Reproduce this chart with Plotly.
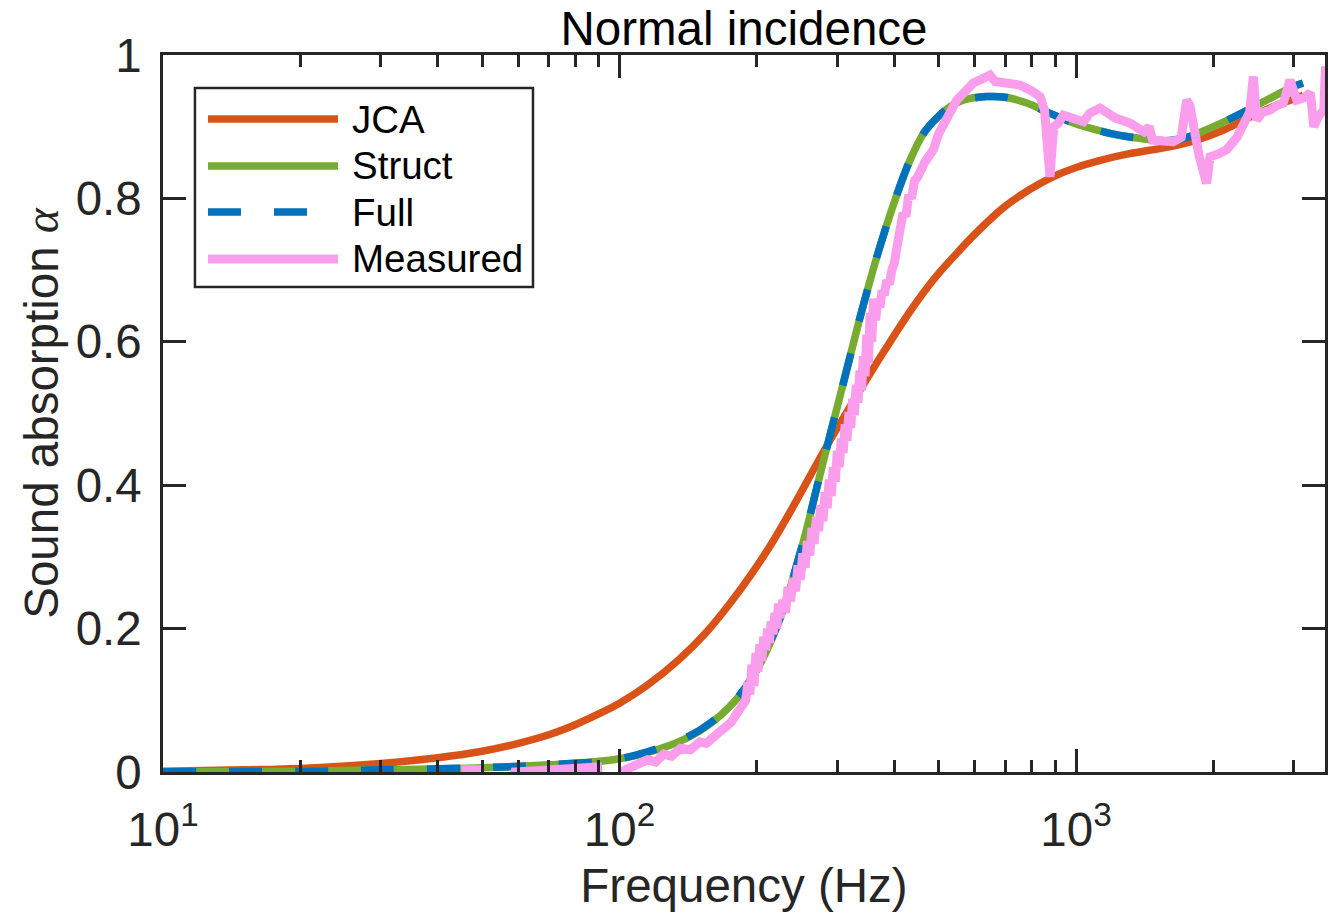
import plotly.graph_objects as go

# ---------------- data ----------------
jca_freq = [10, 15, 20, 30, 40, 50, 60, 70, 80, 90, 100, 115, 135, 155, 175, 195, 215, 240,
            280, 310, 342, 380, 420, 460, 495, 540, 600, 693, 790, 890, 1000, 1130, 1300,
            1630, 1850, 2100, 2490, 2800, 3050, 3150]
jca_alpha = [0.001, 0.003, 0.005, 0.012, 0.020, 0.029, 0.040, 0.052, 0.066, 0.081, 0.096,
             0.121, 0.157, 0.195, 0.236, 0.277, 0.318, 0.370, 0.447, 0.495, 0.540, 0.587,
             0.630, 0.666, 0.692, 0.719, 0.750, 0.787, 0.812, 0.830, 0.843, 0.853, 0.862,
             0.873, 0.882, 0.895, 0.918, 0.932, 0.940, 0.944]

struct_freq = [10, 20, 30, 50, 70, 97, 115, 140, 160, 184, 203, 225, 250, 280, 310, 340, 370,
               400, 432, 465, 495, 530, 566, 637, 700, 780, 860, 970, 1073, 1200, 1335, 1500,
               1634, 1750, 1869, 2000, 2211, 2616, 2943, 3141]
struct_alpha = [0.0005, 0.001, 0.003, 0.006, 0.010, 0.017, 0.027, 0.047, 0.070, 0.108, 0.150,
                0.215, 0.310, 0.435, 0.545, 0.645, 0.728, 0.795, 0.852, 0.892, 0.912, 0.928,
                0.937, 0.942, 0.941, 0.933, 0.921, 0.907, 0.898, 0.890, 0.885, 0.881, 0.881,
                0.885, 0.892, 0.900, 0.913, 0.937, 0.954, 0.961]

full_freq = [10, 20, 30, 50, 70, 97, 115, 140, 160, 184, 203, 225, 250, 280, 310, 340, 370,
             400, 432, 465, 495, 530, 566, 637, 700, 780, 860, 970, 1073, 1200, 1335, 1500,
             1634, 1750, 1869, 2000, 2211, 2616, 2943, 3141]
full_alpha = [0.0005, 0.001, 0.003, 0.006, 0.010, 0.017, 0.028, 0.048, 0.071, 0.109, 0.151,
              0.216, 0.311, 0.435, 0.545, 0.645, 0.728, 0.795, 0.852, 0.892, 0.912, 0.928,
              0.937, 0.942, 0.941, 0.933, 0.921, 0.907, 0.898, 0.890, 0.885, 0.881, 0.881,
              0.885, 0.892, 0.900, 0.913, 0.937, 0.954, 0.961]

meas_freq = [45, 49, 49.5, 58.5, 59, 70, 80, 89.5, 90, 102, 103, 109, 115, 120, 125, 130, 136,
             143, 150, 155, 160, 165, 171, 176, 180, 185, 189, 191, 193, 195, 197, 199, 201,
             203, 205, 207, 209, 211, 213, 215, 217, 219, 221, 223, 225, 228, 231, 234, 237,
             240, 243, 246, 249, 252, 255, 258, 261, 264, 267, 270, 273, 276, 279, 282, 285,
             288, 291, 294, 297, 300, 303, 306, 309, 312, 315, 318, 321, 324, 327, 330, 333,
             336, 339, 342, 345, 348, 351, 354, 357, 360, 364, 368, 372, 376, 380, 385, 390,
             395, 400, 406, 412, 418, 424, 430, 436, 443, 450, 458, 466, 475, 487, 500, 512,
             530, 548, 570, 596, 620, 648, 665, 700, 754, 800, 834, 853, 866, 877, 886, 894,
             915, 938, 980, 1038, 1073, 1129, 1148, 1220, 1313, 1409, 1446, 1471, 1550, 1634,
             1700, 1747, 1775, 1806, 1860, 1932, 1966, 2050, 2138, 2250, 2326, 2400, 2446,
             2470, 2488, 2560, 2660, 2760, 2845, 2943, 3000, 3044, 3150, 3262, 3318, 3400,
             3489, 3520, 3560]
meas_alpha = [0.003, 0.003, -0.01, -0.01, 0.000, 0.002, 0.004, 0.007, -0.01, -0.01, 0.003,
              0.010, 0.017, 0.014, 0.025, 0.022, 0.033, 0.031, 0.042, 0.040, 0.050, 0.055,
              0.063, 0.070, 0.080, 0.090, 0.100, 0.125, 0.108, 0.150, 0.120, 0.166, 0.140,
              0.178, 0.155, 0.189, 0.170, 0.200, 0.180, 0.210, 0.192, 0.222, 0.200, 0.235,
              0.215, 0.240, 0.222, 0.258, 0.238, 0.270, 0.252, 0.288, 0.268, 0.305, 0.285,
              0.322, 0.302, 0.340, 0.318, 0.356, 0.336, 0.372, 0.350, 0.390, 0.368, 0.408,
              0.385, 0.425, 0.405, 0.448, 0.425, 0.465, 0.445, 0.485, 0.462, 0.502, 0.480,
              0.520, 0.498, 0.540, 0.515, 0.560, 0.532, 0.580, 0.552, 0.610, 0.570, 0.640,
              0.600, 0.660, 0.630, 0.660, 0.648, 0.672, 0.665, 0.686, 0.680, 0.700, 0.710,
              0.735, 0.760, 0.780, 0.775, 0.805, 0.800, 0.825, 0.830, 0.842, 0.850, 0.858,
              0.868, 0.890, 0.905, 0.920, 0.937, 0.950, 0.961, 0.966, 0.972, 0.963, 0.960,
              0.958, 0.950, 0.942, 0.923, 0.870, 0.830, 0.870, 0.900, 0.905, 0.916, 0.912,
              0.907, 0.919, 0.926, 0.923, 0.912, 0.905, 0.893, 0.900, 0.881, 0.880, 0.879,
              0.885, 0.937, 0.930, 0.900, 0.860, 0.821, 0.858, 0.862, 0.868, 0.885, 0.905,
              0.920, 0.970, 0.930, 0.909, 0.920, 0.923, 0.930, 0.933, 0.965, 0.945, 0.937,
              0.940, 0.947, 0.900, 0.915, 0.923, 0.984, 0.940]

x_tick_vals = [10, 100, 1000]
x_tick_text = ["10<sup>1</sup>", "10<sup>2</sup>", "10<sup>3</sup>"]
x_minor_vals = [20, 30, 40, 50, 60, 70, 80, 90, 200, 300, 400, 500, 600, 700, 800, 900,
                2000, 3000]
y_tick_vals = [0, 0.2, 0.4, 0.6, 0.8, 1]
y_tick_text = ["0", "0.2", "0.4", "0.6", "0.8", "1"]

series_names = ["JCA", "Struct", "Full", "Measured"]
series_colors = ["#D95319", "#77AC30", "#0072BD", "#FA9DEC"]

# ---------------- figure ----------------
FONT = "Liberation Sans, Arial, Helvetica, sans-serif"
AX = "#262626"
FS = 47.5
W_MODEL = 7.5
W_MEAS = 9

fig = go.Figure()
fig.add_trace(go.Scatter(x=jca_freq, y=jca_alpha, name=series_names[0], mode="lines",
                         line=dict(color=series_colors[0], width=W_MODEL, shape="spline",
                                   smoothing=1.0)))
fig.add_trace(go.Scatter(x=struct_freq, y=struct_alpha, name=series_names[1], mode="lines",
                         line=dict(color=series_colors[1], width=W_MODEL, shape="spline",
                                   smoothing=1.0)))
fig.add_trace(go.Scatter(x=full_freq, y=full_alpha, name=series_names[2], mode="lines",
                         line=dict(color=series_colors[2], width=W_MODEL, dash="33px,33px",
                                   shape="spline", smoothing=1.0)))
fig.add_trace(go.Scatter(x=meas_freq, y=meas_alpha, name=series_names[3], mode="lines",
                         line=dict(color=series_colors[3], width=W_MEAS)))

# ---------------- manual MATLAB-style legend ----------------
lx0, lx1, ly0, ly1 = 0.0275, 0.3184, 0.6764, 0.954
sx0, sx1, tx = 0.0387, 0.1506, 0.1609
rows = [0.9107, 0.8452, 0.781, 0.7155]
shapes = [dict(type="rect", xref="paper", yref="paper", x0=lx0, x1=lx1, y0=ly0, y1=ly1,
               line=dict(color=AX, width=2.5), fillcolor="white", layer="above")]
annotations = []
for i, (nm, col) in enumerate(zip(series_names, series_colors)):
    shapes.append(dict(type="line", xref="paper", yref="paper", x0=sx0, x1=sx1,
                       y0=rows[i], y1=rows[i],
                       line=dict(color=col, width=W_MODEL if i < 3 else W_MEAS,
                                 dash="33px,33px" if nm == "Full" else "solid"),
                       layer="above"))
    annotations.append(dict(xref="paper", yref="paper", x=tx, y=rows[i], text=nm,
                            showarrow=False, xanchor="left", yanchor="middle",
                            font=dict(family=FONT, size=38.5, color="black")))

fig.update_layout(
    width=1334, height=916,
    margin=dict(l=163, r=9, t=55, b=144, autoexpand=False),
    paper_bgcolor="white", plot_bgcolor="white",
    showlegend=False,
    shapes=shapes, annotations=annotations,
    title=dict(text="Normal incidence", x=0.5, xref="paper", xanchor="center",
               y=1 - 28 / 916, yref="container", yanchor="middle",
               font=dict(family=FONT, size=FS, color="black")),
    xaxis=dict(type="log", range=[1, 3.5454], tickmode="array", tickvals=x_tick_vals,
               ticktext=x_tick_text, ticks="inside", ticklen=23, tickwidth=2.5,
               tickcolor=AX, showline=True, linecolor=AX, linewidth=2.5, mirror="ticks",
               showgrid=False, zeroline=False, ticklabelstandoff=14, automargin=False,
               tickfont=dict(family=FONT, size=FS, color=AX),
               minor=dict(tickvals=x_minor_vals, ticks="inside", ticklen=12, tickwidth=2.5,
                          tickcolor=AX, showgrid=False),
               title=dict(text="Frequency (Hz)", standoff=14,
                          font=dict(family=FONT, size=FS, color=AX))),
    yaxis=dict(range=[0, 1], tickmode="array", tickvals=y_tick_vals, ticktext=y_tick_text,
               ticks="inside", ticklen=23, tickwidth=2.5, tickcolor=AX, showline=True,
               linecolor=AX, linewidth=2.5, mirror="ticks", showgrid=False, zeroline=False,
               ticklabelstandoff=9, automargin=False,
               tickfont=dict(family=FONT, size=FS, color=AX),
               title=dict(text="Sound absorption <i><span style=\"font-family:'Liberation Serif', serif\">α</span></i>",
                          standoff=3, font=dict(family=FONT, size=FS, color=AX))),
)

fig.write_html("out.html", config={"displayModeBar": False},
               post_script="document.body.style.margin='0';document.body.style.overflow='hidden';")
